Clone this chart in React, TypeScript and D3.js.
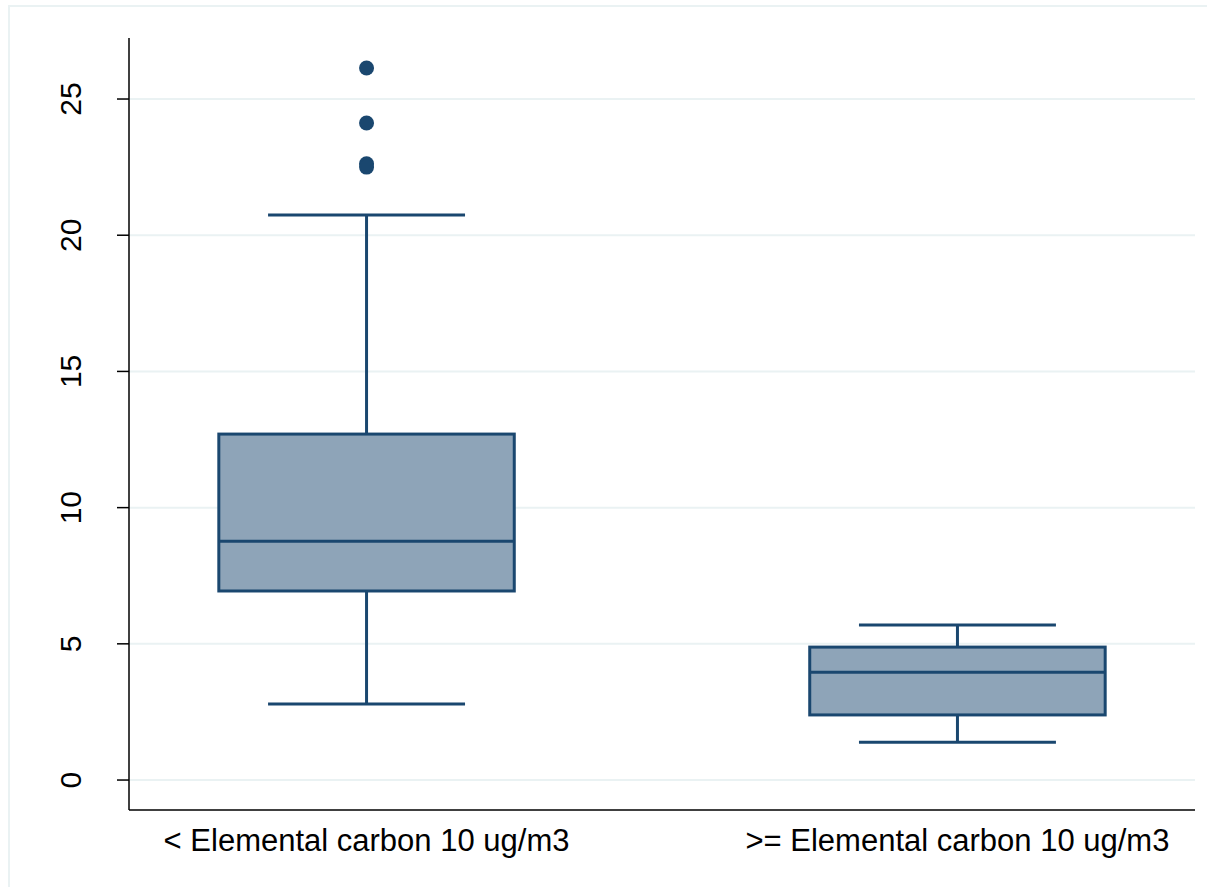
import React from 'react'
import * as d3 from 'd3'

const categories = ['< Elemental carbon 10 ug/m3', '>= Elemental carbon 10 ug/m3']
const lowWhisker = [2.79, 1.39]
const q1 = [6.94, 2.39]
const median = [8.77, 3.96]
const q3 = [12.7, 4.88]
const highWhisker = [20.74, 5.69]
const outliers = [[26.14, 24.12, 22.62, 22.5], []]
const yTicks = [0, 5, 10, 15, 20, 25]

const W = 1207
const H = 887
const left = 129
const right = 1195
const top = 38
const bottom = 810

const navy = '#1a476f'
const fill = '#8ea4b8'
const grid = '#eaf2f3'

export default function App() {
  const x = d3.scalePoint<string>().domain(categories).range([left, right]).padding(0.402)
  const y = d3.scaleLinear().domain([-1.1, 27.24]).range([bottom, top])
  const step = x.step()
  const boxW = step * 0.5
  const capW = step / 3

  return (
    <div style={{ position: 'absolute', left: 0, top: 0 }}>
      <svg width={W} height={H} style={{ display: 'block', fontFamily: 'Liberation Sans, Arial, sans-serif' }}>
        <rect x={0} y={0} width={W} height={H} fill="#fff" />
        <rect x={9} y={6} width={W + 10} height={H + 10} fill="none" stroke={grid} strokeWidth={2} />
        {yTicks.map(t => (
          <g key={t}>
            <line x1={left} x2={right} y1={y(t)} y2={y(t)} stroke={grid} strokeWidth={2} />
            <line x1={left - 12} x2={left} y1={y(t)} y2={y(t)} stroke="#000" strokeWidth={1.5} />
            <text
              transform={`translate(${left - 48},${y(t)}) rotate(-90)`}
              textAnchor="middle"
              fontSize={30}
              fill="#000"
            >
              {t}
            </text>
          </g>
        ))}
        {categories.map((c, i) => {
          const cx = x(c) as number
          return (
            <g key={c}>
              <line x1={cx} x2={cx} y1={y(highWhisker[i])} y2={y(q3[i])} stroke={navy} strokeWidth={3} />
              <line x1={cx} x2={cx} y1={y(q1[i])} y2={y(lowWhisker[i])} stroke={navy} strokeWidth={3} />
              <line x1={cx - capW / 2} x2={cx + capW / 2} y1={y(highWhisker[i])} y2={y(highWhisker[i])} stroke={navy} strokeWidth={3} />
              <line x1={cx - capW / 2} x2={cx + capW / 2} y1={y(lowWhisker[i])} y2={y(lowWhisker[i])} stroke={navy} strokeWidth={3} />
              <rect
                x={cx - boxW / 2}
                y={y(q3[i])}
                width={boxW}
                height={y(q1[i]) - y(q3[i])}
                fill={fill}
                stroke={navy}
                strokeWidth={3}
              />
              <line x1={cx - boxW / 2} x2={cx + boxW / 2} y1={y(median[i])} y2={y(median[i])} stroke={navy} strokeWidth={3} />
              {outliers[i].map((o, j) => (
                <circle key={j} cx={cx} cy={y(o)} r={7.5} fill={navy} />
              ))}
              <text x={cx} y={bottom + 41} textAnchor="middle" fontSize={31} fill="#000">
                {c}
              </text>
            </g>
          )
        })}
        <line x1={left} x2={left} y1={top} y2={bottom} stroke="#000" strokeWidth={1.5} />
        <line x1={left} x2={right} y1={bottom} y2={bottom} stroke="#000" strokeWidth={1.5} />
      </svg>
    </div>
  )
}
